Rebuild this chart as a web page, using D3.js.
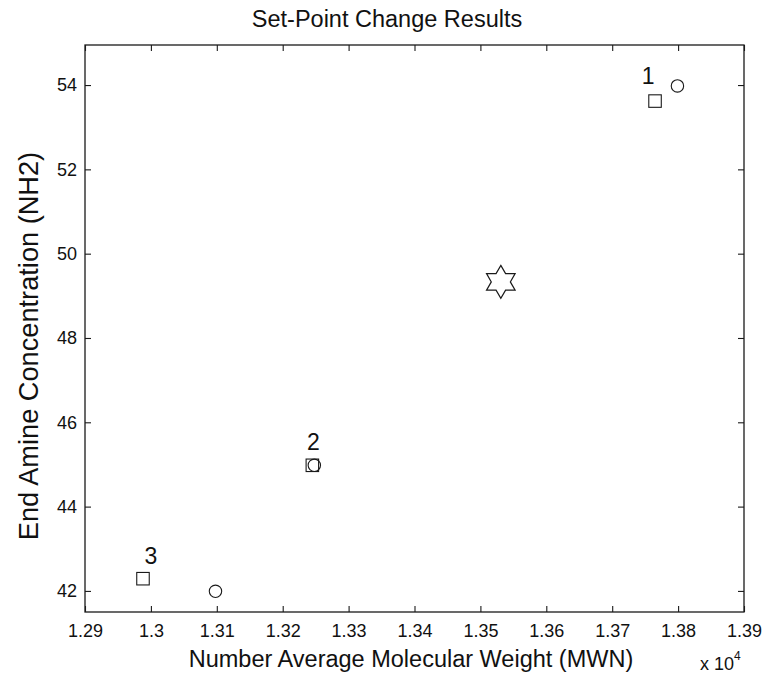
<!DOCTYPE html>
<html>
<head>
<meta charset="utf-8">
<script src="https://cdn.jsdelivr.net/npm/d3@7"></script>
<style>
  body { margin: 0; background: #fff; }
  svg text { font-family: "Liberation Sans", Arial, sans-serif; fill: #111; }
</style>
</head>
<body>
<svg id="chart" width="770" height="679"></svg>
<script>
// Set-point change results: initial (square) vs. final (circle) states, target (star)
const runLabels = ["1", "2", "3"];
const squareMwn = [13765, 13245, 12988];
const squareNh2 = [53.62, 44.98, 42.29];
const circleMwn = [13799, 13248, 13098];
const circleNh2 = [53.98, 44.98, 41.99];
const targetMwn = [13531];
const targetNh2 = [49.33];
const xTicks = [1.29, 1.30, 1.31, 1.32, 1.33, 1.34, 1.35, 1.36, 1.37, 1.38, 1.39];
const yTicks = [42, 44, 46, 48, 50, 52, 54];

const svg = d3.select("#chart");
const m = { left: 85, right: 744, top: 45, bottom: 612 };
const ink = "#1a1a1a";

const x = d3.scaleLinear().domain([12900, 13900]).range([m.left, m.right]);
const y = d3.scaleLinear().domain([41.5, 54.95]).range([m.bottom, m.top]);

// frame
svg.append("rect")
  .attr("x", m.left).attr("y", m.top)
  .attr("width", m.right - m.left).attr("height", m.bottom - m.top)
  .attr("fill", "none").attr("stroke", ink).attr("stroke-width", 1.3);

const tickLen = 6;
// bottom axis (inward ticks)
const xb = svg.append("g").attr("transform", `translate(0,${m.bottom})`)
  .call(d3.axisBottom(x).tickValues(xTicks.map(d => d * 1e4))
    .tickSize(-tickLen).tickPadding(12)
    .tickFormat((d, i) => String(xTicks[i])));
// top axis mirror ticks
const xt = svg.append("g").attr("transform", `translate(0,${m.top})`)
  .call(d3.axisTop(x).tickValues(xTicks.map(d => d * 1e4))
    .tickSize(-tickLen).tickFormat(""));
// left axis
const yl = svg.append("g").attr("transform", `translate(${m.left},0)`)
  .call(d3.axisLeft(y).tickValues(yTicks).tickSize(-tickLen).tickPadding(8));
// right axis mirror ticks
const yr = svg.append("g").attr("transform", `translate(${m.right},0)`)
  .call(d3.axisRight(y).tickValues(yTicks).tickSize(-tickLen).tickFormat(""));

[xb, xt, yl, yr].forEach(g => {
  g.select(".domain").remove();
  g.selectAll(".tick line").attr("stroke", ink).attr("stroke-width", 1.1);
  g.selectAll(".tick text").attr("font-size", 18).attr("fill", "#111")
    .attr("font-family", "Liberation Sans, Arial, sans-serif");
});
xb.selectAll(".tick text").attr("y", 25).attr("dy", 0);

// exponent note
const ex = svg.append("text").attr("x", 700).attr("y", 670).attr("font-size", 18);
ex.append("tspan").text("x 10");
ex.append("tspan").attr("dy", -10).attr("font-size", 12).text("4");

// titles
svg.append("text").attr("x", 387).attr("y", 27).attr("text-anchor", "middle")
  .attr("font-size", 23.5).text("Set-Point Change Results");
svg.append("text").attr("x", 411).attr("y", 667).attr("text-anchor", "middle")
  .attr("font-size", 23.5).text("Number Average Molecular Weight (MWN)");
svg.append("text").attr("transform", "translate(38,346) rotate(-90)")
  .attr("text-anchor", "middle").attr("font-size", 27.2)
  .text("End Amine Concentration (NH2)");

// squares
const sq = 12.5;
svg.append("g").selectAll("rect").data(squareMwn).join("rect")
  .attr("x", (d) => x(d) - sq / 2)
  .attr("y", (d, i) => y(squareNh2[i]) - sq / 2)
  .attr("width", sq).attr("height", sq)
  .attr("fill", "none").attr("stroke", ink).attr("stroke-width", 1.1);

// circles
svg.append("g").selectAll("circle").data(circleMwn).join("circle")
  .attr("cx", d => x(d)).attr("cy", (d, i) => y(circleNh2[i]))
  .attr("r", 6.2).attr("fill", "none").attr("stroke", ink).attr("stroke-width", 1.1);

// run labels above the squares
svg.append("g").selectAll("text").data(runLabels).join("text")
  .attr("x", (d, i) => x(squareMwn[i]) + (i === 0 ? -7 : (i === 2 ? 8 : 1)))
  .attr("y", (d, i) => y(squareNh2[i]) - (i === 0 ? 17 : 15))
  .attr("text-anchor", "middle").attr("font-size", 23).text(d => d);

// target (hexagram)
const star = d3.symbol().type({
  draw(ctx, size) {
    const R = Math.sqrt(size), r = R / Math.sqrt(3);
    for (let k = 0; k < 12; k++) {
      const a = -Math.PI / 2 + k * Math.PI / 6;
      const rad = k % 2 === 0 ? R : r;
      const px = rad * Math.cos(a), py = rad * Math.sin(a);
      k === 0 ? ctx.moveTo(px, py) : ctx.lineTo(px, py);
    }
    ctx.closePath();
  }
}).size(16.5 * 16.5);
svg.append("g").selectAll("path").data(targetMwn).join("path")
  .attr("transform", (d, i) => `translate(${x(d)},${y(targetNh2[i])})`)
  .attr("d", star).attr("fill", "none").attr("stroke", ink).attr("stroke-width", 1.2);
</script>
</body>
</html>
